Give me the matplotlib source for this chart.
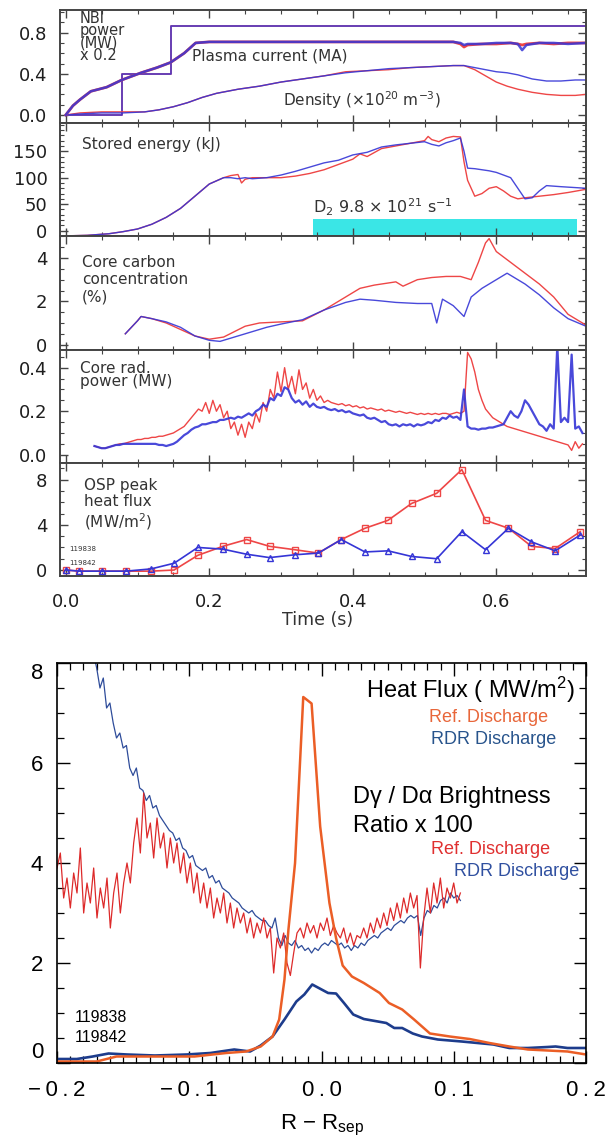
import numpy as np
import matplotlib
matplotlib.use("Agg")
import matplotlib.pyplot as plt
from matplotlib.ticker import MultipleLocator, FixedLocator

plt.rcParams['mathtext.fontset'] = 'custom'
plt.rcParams['mathtext.rm'] = 'Liberation Sans'
plt.rcParams['mathtext.default'] = 'regular'

# ===================== TOP FIGURE DATA (time traces) =====================
# Panel 1: NBI power x0.2, plasma current, density
nbi_t = [0.0, 0.078, 0.078, 0.146, 0.146, 0.725]
nbi_v = [0.0, 0.0, 0.40, 0.40, 0.86, 0.86]

cur_t = [0.0, 0.01, 0.02, 0.035, 0.057, 0.078, 0.105, 0.127, 0.146, 0.165, 0.181, 0.2, 0.3, 0.4,
         0.5, 0.54, 0.55, 0.555, 0.56, 0.58, 0.6, 0.62, 0.63, 0.636, 0.642, 0.66, 0.68, 0.7, 0.725]
cur_red = [0.0, 0.09, 0.15, 0.23, 0.27, 0.34, 0.41, 0.46, 0.51, 0.60, 0.70, 0.71, 0.71, 0.71,
           0.71, 0.71, 0.69, 0.66, 0.68, 0.69, 0.69, 0.70, 0.69, 0.68, 0.69, 0.70, 0.69, 0.70, 0.70]
cur_blue = [0.0, 0.09, 0.15, 0.23, 0.27, 0.34, 0.41, 0.46, 0.51, 0.60, 0.70, 0.71, 0.71, 0.71,
            0.71, 0.71, 0.70, 0.68, 0.69, 0.69, 0.70, 0.70, 0.69, 0.63, 0.68, 0.70, 0.70, 0.69, 0.70]

den_t = [0.0, 0.02, 0.05, 0.08, 0.11, 0.13, 0.15, 0.17, 0.19, 0.21, 0.24, 0.27, 0.3, 0.33, 0.36,
         0.39, 0.42, 0.45, 0.48, 0.51, 0.54, 0.555, 0.57, 0.585, 0.6, 0.615, 0.63, 0.65, 0.67,
         0.69, 0.71, 0.725]
den_red = [0.0, 0.02, 0.03, 0.03, 0.03, 0.05, 0.08, 0.12, 0.17, 0.21, 0.25, 0.28, 0.32, 0.35, 0.38,
           0.42, 0.43, 0.44, 0.46, 0.47, 0.48, 0.48, 0.44, 0.38, 0.32, 0.28, 0.25, 0.22, 0.20,
           0.19, 0.19, 0.20]
den_blue = [0.0, 0.01, 0.02, 0.02, 0.03, 0.05, 0.08, 0.12, 0.17, 0.21, 0.25, 0.28, 0.32, 0.35, 0.38,
            0.41, 0.43, 0.45, 0.46, 0.47, 0.48, 0.48, 0.46, 0.44, 0.42, 0.41, 0.39, 0.35, 0.33,
            0.33, 0.34, 0.34]

# Panel 2: stored energy (kJ) and D2 puff
se_red_t = [0.0, 0.03, 0.06, 0.08, 0.1, 0.12, 0.14, 0.16, 0.18, 0.2, 0.22, 0.23, 0.24, 0.245, 0.25,
            0.26, 0.28, 0.3, 0.32, 0.34, 0.36, 0.38, 0.4, 0.41, 0.42, 0.44, 0.46, 0.48, 0.5, 0.505,
            0.51, 0.52, 0.53, 0.54, 0.55, 0.555, 0.56, 0.57, 0.58, 0.59, 0.6, 0.61, 0.62, 0.63,
            0.64, 0.66, 0.68, 0.7, 0.725]
se_red = [-10, -9, -6, -2, 3, 12, 25, 42, 65, 88, 100, 104, 106, 90, 97,
          100, 100, 100, 103, 108, 115, 125, 135, 145, 140, 155, 160, 165, 170, 178,
          172, 168, 175, 178, 177, 130, 95, 65, 70, 80, 83, 75, 65, 60,
          62, 65, 68, 72, 78]
se_blue_t = [0.0, 0.03, 0.06, 0.08, 0.1, 0.12, 0.14, 0.16, 0.18, 0.2, 0.22, 0.23, 0.24, 0.25, 0.26,
             0.28, 0.3, 0.32, 0.34, 0.36, 0.38, 0.4, 0.42, 0.44, 0.46, 0.48, 0.5, 0.51, 0.52, 0.53,
             0.54, 0.55, 0.555, 0.56, 0.57, 0.59, 0.6, 0.62, 0.63, 0.64, 0.65, 0.66, 0.67, 0.69, 0.725]
se_blue = [-10, -9, -6, -2, 3, 12, 25, 42, 65, 88, 100, 100, 98, 100, 98,
           100, 105, 112, 120, 128, 133, 143, 148, 158, 162, 165, 168, 163, 160, 166,
           170, 175, 150, 118, 117, 113, 110, 100, 80, 60, 62, 75, 85, 83, 80]
gas_t = [0.345, 0.712]
gas_rate = 21

# Panel 3: core carbon concentration (%)
cc_red_t = [0.083, 0.1, 0.105, 0.12, 0.14, 0.16, 0.18, 0.2, 0.22, 0.25, 0.27, 0.3, 0.33, 0.36, 0.39,
            0.41, 0.43, 0.45, 0.46, 0.47, 0.49, 0.51, 0.53, 0.55, 0.565, 0.575, 0.585, 0.59, 0.6,
            0.62, 0.64, 0.66, 0.68, 0.7, 0.725]
cc_red = [0.5, 1.1, 1.3, 1.2, 1.0, 0.7, 0.4, 0.25, 0.35, 0.85, 1.0, 1.05, 1.1, 1.6, 2.2,
          2.6, 2.75, 2.85, 2.9, 2.7, 3.0, 3.1, 3.15, 3.15, 3.0, 3.8, 4.7, 4.9, 4.3,
          3.8, 3.3, 2.8, 2.2, 1.4, 0.9]
cc_blue_t = [0.083, 0.1, 0.105, 0.12, 0.14, 0.16, 0.18, 0.2, 0.215, 0.25, 0.28, 0.3, 0.33, 0.36,
             0.39, 0.41, 0.43, 0.46, 0.49, 0.51, 0.517, 0.525, 0.54, 0.555, 0.565, 0.58, 0.6,
             0.615, 0.64, 0.66, 0.68, 0.7, 0.725]
cc_blue = [0.5, 1.1, 1.3, 1.2, 1.05, 0.8, 0.4, 0.2, 0.15, 0.5, 0.8, 0.95, 1.15, 1.6,
           1.95, 2.1, 2.05, 1.95, 1.9, 1.9, 1.0, 2.1, 1.8, 1.3, 2.2, 2.6, 3.0,
           3.3, 2.8, 2.3, 1.7, 1.2, 0.85]

# Panel 4: core radiated power (MW), sampled every 5 ms from 0.04 s to 0.72 s
rad_t_range = (0.04, 0.72)
rad_red = [0.04, 0.035, 0.03, 0.03, 0.035, 0.04, 0.045, 0.05, 0.05, 0.055,
           0.06, 0.065, 0.07, 0.07, 0.075, 0.075, 0.08, 0.08, 0.085, 0.085,
           0.09, 0.095, 0.1, 0.11, 0.12, 0.13, 0.15, 0.17, 0.19, 0.21,
           0.2, 0.24, 0.19, 0.25, 0.2, 0.23, 0.17, 0.2, 0.12, 0.15,
           0.09, 0.14, 0.08, 0.15, 0.12, 0.19, 0.15, 0.24, 0.2, 0.3,
           0.26, 0.38, 0.29, 0.4, 0.3, 0.36, 0.28, 0.39, 0.3, 0.33,
           0.26, 0.3, 0.25, 0.27, 0.24, 0.25, 0.24, 0.235, 0.23, 0.235,
           0.225, 0.23, 0.22, 0.225, 0.215, 0.22, 0.21, 0.215, 0.21, 0.205,
           0.21, 0.2, 0.205, 0.2, 0.195, 0.2, 0.195, 0.19, 0.195, 0.19,
           0.185, 0.19, 0.185, 0.19, 0.185, 0.19, 0.185, 0.19, 0.19, 0.185,
           0.19, 0.195, 0.19, 0.2, 0.47, 0.44, 0.38, 0.3, 0.25, 0.21,
           0.19, 0.17, 0.16, 0.15, 0.14, 0.13, 0.125, 0.12, 0.115, 0.11,
           0.105, 0.1, 0.095, 0.09, 0.085, 0.08, 0.075, 0.07, 0.065, 0.06,
           0.055, 0.05, 0.045, 0.02, 0.06, 0.03, 0.05]
rad_blue = [0.04, 0.035, 0.03, 0.03, 0.035, 0.04, 0.045, 0.045, 0.05, 0.05,
            0.05, 0.05, 0.05, 0.05, 0.05, 0.05, 0.05, 0.05, 0.045, 0.045,
            0.04, 0.045, 0.05, 0.06, 0.075, 0.09, 0.1, 0.115, 0.125, 0.13,
            0.14, 0.14, 0.145, 0.15, 0.15, 0.16, 0.16, 0.165, 0.17, 0.165,
            0.175, 0.17, 0.18, 0.19, 0.18, 0.2, 0.21, 0.23, 0.22, 0.26,
            0.25, 0.28, 0.27, 0.31, 0.3, 0.26, 0.24, 0.25, 0.23, 0.245,
            0.22, 0.235, 0.22, 0.215, 0.22, 0.21, 0.205, 0.21, 0.2, 0.205,
            0.195, 0.2, 0.19, 0.185, 0.18, 0.185, 0.17, 0.165, 0.17, 0.16,
            0.15, 0.155, 0.14, 0.135, 0.14, 0.13, 0.14, 0.135, 0.14, 0.13,
            0.14, 0.135, 0.14, 0.15, 0.145, 0.16, 0.155, 0.17, 0.165, 0.18,
            0.17, 0.175, 0.16, 0.3, 0.13, 0.12, 0.12, 0.115, 0.12, 0.12,
            0.125, 0.125, 0.13, 0.135, 0.14, 0.17, 0.2, 0.18, 0.17, 0.2,
            0.25, 0.23, 0.2, 0.17, 0.14, 0.13, 0.11, 0.14, 0.12, 0.5,
            0.15, 0.17, 0.15, 0.46, 0.12, 0.13, 0.1]

# Panel 5: OSP peak heat flux (MW/m^2)
osp_t = [0.0, 0.019, 0.051, 0.084, 0.119, 0.151, 0.184, 0.219, 0.252, 0.284, 0.319, 0.352,
         0.384, 0.417, 0.449, 0.482, 0.517, 0.552, 0.585, 0.617, 0.649, 0.682, 0.717]
osp_red = [0.0, -0.1, -0.1, -0.1, -0.1, 0.0, 1.3, 2.1, 2.7, 2.1, 1.8, 1.5,
           2.7, 3.7, 4.4, 5.9, 6.8, 8.9, 4.4, 3.7, 2.1, 1.9, 3.4]
osp_blue = [0.0, -0.1, -0.1, -0.1, 0.1, 0.6, 2.0, 1.85, 1.4, 1.1, 1.35, 1.5,
            2.7, 1.6, 1.7, 1.2, 1.0, 3.4, 1.8, 3.7, 2.5, 1.7, 3.1]

top_xticks = [0.0, 0.2, 0.4, 0.6]
top_xticklabels = ["0.0", "0.2", "0.4", "0.6"]
shots = ["119838", "119842"]

# ===================== BOTTOM FIGURE DATA (radial profiles) =====================
hf_ref_x = [-0.2, -0.17, -0.155, -0.126, -0.096, -0.072, -0.057, -0.046, -0.037, -0.032, -0.028,
            -0.025, -0.02, -0.0138, -0.0075, -0.001, 0.006, 0.011, 0.016, 0.023, 0.032, 0.044,
            0.051, 0.061, 0.07, 0.076, 0.082, 0.097, 0.112, 0.127, 0.142, 0.156, 0.171, 0.186, 0.2]
hf_ref_y = [0.03, 0.03, 0.13, 0.13, 0.13, 0.2, 0.23, 0.33, 0.53, 0.87, 1.67,
            2.67, 4.0, 7.32, 7.19, 4.73, 3.2, 2.5, 1.95, 1.73, 1.6, 1.4,
            1.2, 1.07, 0.87, 0.73, 0.59, 0.53, 0.48, 0.4, 0.33, 0.27, 0.25, 0.23, 0.17]
hf_rdr_x = [-0.2, -0.185, -0.173, -0.161, -0.147, -0.126, -0.102, -0.084, -0.066, -0.054, -0.046,
            -0.037, -0.028, -0.019, -0.013, -0.007, 0.005, 0.011, 0.017, 0.024, 0.032, 0.049,
            0.055, 0.061, 0.069, 0.076, 0.088, 0.106, 0.118, 0.13, 0.142, 0.156, 0.171, 0.177,
            0.186, 0.2]
hf_rdr_y = [0.08, 0.08, 0.13, 0.19, 0.17, 0.15, 0.17, 0.2, 0.27, 0.23, 0.35,
            0.53, 0.87, 1.23, 1.37, 1.57, 1.4, 1.39, 1.2, 0.97, 0.88, 0.8,
            0.7, 0.7, 0.59, 0.53, 0.47, 0.43, 0.4, 0.37, 0.3, 0.3, 0.32, 0.33,
            0.3, 0.3]

# D-gamma / D-alpha ratio x100, reference discharge, -0.2 .. 0.105
br_ref_range = (-0.2, 0.105)
br_ref = [3.9, 4.2, 3.3, 3.7, 3.1, 3.8, 3.4, 4.3, 3.0, 3.6, 3.2, 3.9, 2.9, 3.5, 3.1, 3.7, 2.7, 3.4,
          3.8, 3.0, 3.6, 4.0,
          3.6, 4.4, 4.9, 4.2, 5.4, 4.5, 4.8, 4.1, 4.9, 4.3, 4.6, 3.9, 4.5, 4.0,
          4.4, 3.8, 4.2, 3.6, 4.0, 3.4, 3.8, 3.2, 3.6, 3.1, 3.5, 2.9, 3.3, 3.0, 3.4, 2.8, 3.2, 2.7,
          3.1, 2.8,
          3.0, 2.6, 2.9, 2.5, 2.8, 2.6, 2.9, 2.5,
          2.7, 1.8, 2.5, 2.3, 2.6, 2.0, 1.75, 2.2,
          2.6, 2.7, 2.5, 2.8, 2.6, 2.75, 2.5, 2.8, 2.65, 2.9, 2.55, 2.75, 2.6, 2.5, 2.7, 2.4, 2.6,
          2.35, 2.55, 2.5,
          2.7, 2.5, 2.8, 2.6, 2.9, 2.7, 3.0, 2.75, 3.1, 2.85, 3.2, 2.9, 3.3, 3.0, 3.4, 3.1,
          3.35, 1.9, 2.9, 3.5, 3.0, 3.6, 3.2, 3.7, 3.1, 3.5, 3.3, 3.6, 3.2, 3.4]
# RDR discharge, -0.1725 .. 0.105 (2.5 mm steps)
br_rdr_range = (-0.1725, 0.105)
br_rdr = [8.2, 7.9, 7.5, 7.7, 7.1, 7.2, 6.8, 6.5, 6.6, 6.3, 6.35, 5.9, 5.75, 5.9, 5.5, 5.45, 5.25,
          5.35, 5.1, 5.15, 4.95, 4.85, 4.75, 4.65, 4.6, 4.45, 4.5, 4.3, 4.25, 4.1, 4.15, 3.95, 3.9,
          3.85, 3.9, 3.7, 3.75, 3.6, 3.65, 3.5, 3.45, 3.4, 3.3, 3.25, 3.2, 3.1, 3.05, 3.0, 3.05,
          2.95, 2.9, 2.85, 2.85, 2.75, 2.7, 2.9, 2.5, 2.35, 2.55, 2.4, 2.35, 2.45, 2.3, 2.35, 2.25,
          2.3, 2.2, 2.3, 2.25, 2.35, 2.4, 2.35, 2.45, 2.4, 2.35, 2.4, 2.3, 2.35, 2.25, 2.35, 2.3,
          2.4, 2.35, 2.45, 2.5, 2.55, 2.5, 2.6, 2.65, 2.7, 2.65, 2.75, 2.8, 2.85, 2.8, 2.9, 2.95,
          2.9, 2.95, 2.55, 2.9, 3.05, 3.0, 3.15, 3.1, 3.25, 3.3, 3.2, 3.4, 3.3, 3.35, 3.25]

bot_xticks = [-0.2, -0.1, 0.0, 0.1, 0.2]
bot_xticklabels = ["\u22120.2", "\u22120.1", "0.0", "0.1", "0.2"]
bot_yticks = [0, 2, 4, 6, 8]

# ===================== STYLE =====================
RED = '#ee4646'
BLUE = '#3535d6'
TXT = '#333333'
CYAN = '#3ae6e6'
C_HF_REF = '#eb5e26'
C_HF_RDR = '#1d3c8c'
C_BR_REF = '#dd2a2a'
C_BR_RDR = '#2e4c9a'
TOPFONT = 'DejaVu Sans'
BOTFONT = ['Liberation Sans', 'DejaVu Sans']

W, H = 614, 1148
fig = plt.figure(figsize=(W / 100, H / 100), dpi=100)


def px_axes(l, t, r, b):
    return fig.add_axes([l / W, 1 - b / H, (r - l) / W, (b - t) / H])


def ftxt(x, y, s, **kw):
    kw.setdefault('va', 'center')
    kw.setdefault('ha', 'left')
    return fig.text(x / W, 1 - y / H, s, **kw)


# ---------- top panels ----------
top_l, top_r, top_y0, top_y1 = 60, 586, 10, 576
ph = (top_y1 - top_y0) / 5
axes = [px_axes(top_l, top_y0 + i * ph, top_r, top_y0 + (i + 1) * ph) for i in range(5)]
ylims = [(-0.08, 1.02), (-11, 203), (-0.23, 5.0), (-0.037, 0.483), (-0.53, 9.5)]
yticks = [[0.0, 0.4, 0.8], [0, 50, 100, 150], [0, 2, 4], [0.0, 0.2, 0.4], [0, 4, 8]]
ytl = [["0.0", "0.4", "0.8"], ["0", "50", "100", "150"], ["0", "2", "4"],
       ["0.0", "0.2", "0.4"], ["0", "4", "8"]]
yminor = [0.1, 10, 0.5, 0.05, 1]

for i, ax in enumerate(axes):
    ax.set_xlim(-0.008, 0.725)
    ax.set_ylim(*ylims[i])
    ax.xaxis.set_major_locator(FixedLocator(top_xticks))
    ax.xaxis.set_minor_locator(MultipleLocator(0.05))
    ax.set_yticks(yticks[i])
    ax.set_yticklabels(ytl[i], fontsize=13, family=TOPFONT, color='#1e1e1e')
    ax.yaxis.set_minor_locator(MultipleLocator(yminor[i]))
    ax.tick_params(which='both', direction='in', top=True, right=True, color='#444444', pad=9)
    ax.tick_params(which='major', length=6, width=1.0)
    ax.tick_params(which='minor', length=3, width=0.8)
    for s in ax.spines.values():
        s.set_linewidth(1.4)
        s.set_color('#444444')
    if i < 4:
        ax.set_xticklabels([])
    else:
        ax.set_xticklabels(top_xticklabels, fontsize=13, family=TOPFONT, color='#1e1e1e')
        ax.tick_params(axis='x', pad=12)

a1, a2, a3, a4, a5 = axes
# panel 1
a1.plot(nbi_t, nbi_v, color=RED, lw=1.2)
a1.plot(nbi_t, nbi_v, color=BLUE, lw=1.2, alpha=0.85)
a1.plot(den_t, den_red, color=RED, lw=1.0)
a1.plot(den_t, den_blue, color=BLUE, lw=1.0, alpha=0.9)
a1.plot(cur_t, cur_red, color=RED, lw=2.0)
a1.plot(cur_t, cur_blue, color=BLUE, lw=1.8, alpha=0.85)
# panel 2
a2.fill_between(gas_t, ylims[1][0] + 1, gas_rate, color=CYAN, lw=0)
a2.plot(se_red_t, se_red, color=RED, lw=1.0)
a2.plot(se_blue_t, se_blue, color=BLUE, lw=1.0, alpha=0.9)
# panel 3
a3.plot(cc_red_t, cc_red, color=RED, lw=1.0)
a3.plot(cc_blue_t, cc_blue, color=BLUE, lw=1.0, alpha=0.9)
# panel 4
rt = np.linspace(rad_t_range[0], rad_t_range[1], len(rad_red))
a4.plot(rt, rad_red, color=RED, lw=1.0)
rtb = np.linspace(rad_t_range[0], rad_t_range[1], len(rad_blue))
a4.plot(rtb, rad_blue, color=BLUE, lw=1.6, alpha=0.9)
# panel 5
a5.plot(osp_t, osp_red, color=RED, lw=1.2, marker='s', ms=4.5, mfc='none', mew=1.0)
a5.plot(osp_t, osp_blue, color=BLUE, lw=1.2, marker='^', ms=5, mfc='none', mew=1.0)

# top texts
ftxt(80, 37, "NBI\npower\n(MW)\nx 0.2", fontsize=10.5, family=TOPFONT, color=TXT, linespacing=0.8)
ftxt(192, 56, "Plasma current (MA)", fontsize=11, family=TOPFONT, color=TXT)
ftxt(283, 100, "Density ($\\times$10$^{20}$ m$^{-3}$)", fontsize=11, family=TOPFONT, color=TXT)
ftxt(82, 145, "Stored energy (kJ)", fontsize=11, family=TOPFONT, color=TXT)
ftxt(313, 207, "D$_2$ 9.8 $\\times$ 10$^{21}$ s$^{-1}$", fontsize=11.5, family=TOPFONT, color=TXT)
ftxt(82, 280, "Core carbon\nconcentration\n(%)", fontsize=11, family=TOPFONT, color=TXT,
     linespacing=1.2)
ftxt(80, 375, "Core rad.\npower (MW)", fontsize=11, family=TOPFONT, color=TXT, linespacing=0.85)
ftxt(84, 505, "OSP peak\nheat flux\n(MW/m$^2$)", fontsize=11, family=TOPFONT, color=TXT,
     linespacing=1.1)
ftxt(69, 549, shots[0], fontsize=5, family=TOPFONT, color=TXT)
ftxt(69, 563, shots[1], fontsize=5, family=TOPFONT, color=TXT)
ftxt(318, 620, "Time (s)", fontsize=12.5, family=TOPFONT, color=TXT, ha='center')

# ---------- bottom chart ----------
axb = px_axes(57, 663, 586, 1063)
axb.set_xlim(-0.2, 0.2)
axb.set_ylim(0, 8)
bx_ref = np.linspace(br_ref_range[0], br_ref_range[1], len(br_ref))
bx_rdr = np.linspace(br_rdr_range[0], br_rdr_range[1], len(br_rdr))
axb.plot(bx_rdr, br_rdr, color=C_BR_RDR, lw=0.9)
axb.plot(bx_ref, br_ref, color=C_BR_REF, lw=0.9)
axb.plot(hf_rdr_x, hf_rdr_y, color=C_HF_RDR, lw=1.9)
axb.plot(hf_ref_x, hf_ref_y, color=C_HF_REF, lw=1.8)

axb.set_xticks(bot_xticks)
axb.set_xticklabels(["\u2009".join(list(s)) for s in bot_xticklabels],
                    fontsize=16, family=BOTFONT)
axb.xaxis.set_minor_locator(MultipleLocator(0.01))
axb.set_yticks(bot_yticks)
ylabs = axb.set_yticklabels([str(v) for v in bot_yticks], fontsize=16, family=BOTFONT)
ylabs[0].set_va('bottom')
ylabs[-1].set_va('top')
axb.yaxis.set_minor_locator(MultipleLocator(0.5))
axb.tick_params(which='both', direction='in', top=True, right=True, color='black')
axb.tick_params(which='major', length=9, width=1.0)
axb.tick_params(which='minor', length=5, width=0.9)
axb.tick_params(axis='x', pad=12)
axb.tick_params(axis='y', pad=10)
for s in axb.spines.values():
    s.set_linewidth(1.2)

ftxt(575, 690, "Heat Flux ( MW/m$^{2}$)", fontsize=17, family=BOTFONT, color='black', ha='right')
ftxt(548, 717, "Ref. Discharge", fontsize=13, family=BOTFONT, color='#e8663a', ha='right')
ftxt(556, 740, "RDR Discharge", fontsize=13, family=BOTFONT, color='#28548c', ha='right')
ftxt(353, 797, "D\u03b3 / D\u03b1 Brightness", fontsize=17, family=BOTFONT, color='black')
ftxt(353, 826, "Ratio x 100", fontsize=17, family=BOTFONT, color='black')
ftxt(550, 849, "Ref. Discharge", fontsize=13, family=BOTFONT, color='#e03030', ha='right')
ftxt(579, 872, "RDR Discharge", fontsize=13, family=BOTFONT, color='#3050a0', ha='right')
ftxt(75, 1017, shots[0], fontsize=11.5, family=BOTFONT, color='black')
ftxt(75, 1037, shots[1], fontsize=11.5, family=BOTFONT, color='black')
ftxt(322, 1125, "R \u2212 R$_{\\mathregular{sep}}$", fontsize=16, family=BOTFONT, color='black',
     ha='center')

fig.savefig("out.png", dpi=100)
